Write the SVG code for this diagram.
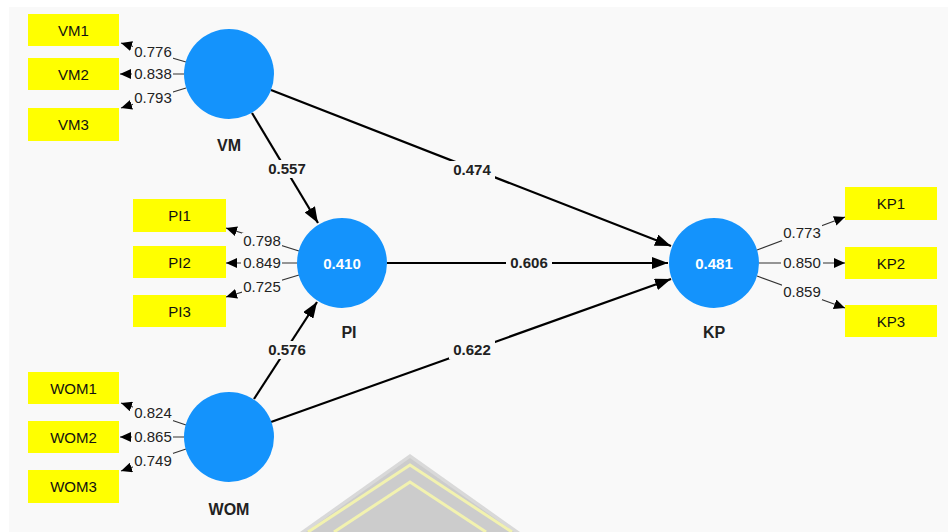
<svg xmlns="http://www.w3.org/2000/svg" width="948" height="532" viewBox="0 0 948 532">
  <defs>
    <marker id="tipSmall" markerUnits="userSpaceOnUse" markerWidth="11" markerHeight="10" refX="11" refY="5" orient="auto">
      <path d="M0,0 L11,5 L0,10 z" fill="#000"/>
    </marker>
    <marker id="tipBig" markerUnits="userSpaceOnUse" markerWidth="16" markerHeight="12" refX="16" refY="6" orient="auto">
      <path d="M0,0 L16,6 L0,12 z" fill="#000"/>
    </marker>
  </defs>
  <style>
    .box { fill: #ffff00; }
    .boxtxt { font-family: "Liberation Sans", Arial, sans-serif; font-size: 15px; fill: #111; text-anchor: middle; }
    .lv { fill: #1493fc; }
    .lvval { font-family: "Liberation Sans", Arial, sans-serif; font-size: 15px; font-weight: bold; fill: #ffffff; text-anchor: middle; }
    .lvname { font-family: "Liberation Sans", Arial, sans-serif; font-size: 16px; font-weight: bold; fill: #222; text-anchor: middle; }
    .ld { stroke: #333; stroke-width: 1.2; fill: none; marker-end: url(#tipSmall); }
    .path { stroke: #000; stroke-width: 2.2; fill: none; marker-end: url(#tipBig); }
    .lbg { fill: #f9f9f9; }
    .ldtxt { font-family: "Liberation Sans", Arial, sans-serif; font-size: 15px; fill: #222; text-anchor: middle; }
    .pathtxt { font-family: "Liberation Sans", Arial, sans-serif; font-size: 15px; font-weight: bold; fill: #222; text-anchor: middle; }
  </style>

  <!-- canvas -->
  <rect x="0" y="0" width="948" height="532" fill="#ffffff"/>
  <rect x="9" y="7" width="939" height="525" fill="#f9f9f9"/>

  <!-- faded emblem at the bottom -->
  <g id="emblem" opacity="0.9">
    <polygon points="410,454 300,532 520,532" fill="#d6d6d6"/>
    <polygon points="410,458 306,532 514,532" fill="#c8c8c8"/>
    <polyline points="308,532 410,465 512,532" fill="none" stroke="#f2f2a8" stroke-width="3"/>
    <polyline points="334,532 410,482 486,532" fill="none" stroke="#f2f2a8" stroke-width="3"/>
  </g>

  <!-- connectors -->
  <g id="connectors">
    <!-- structural paths -->
    <line class="path" x1="252" y1="113" x2="318" y2="223"/>
    <line class="path" x1="271" y1="90" x2="671" y2="246"/>
    <line class="path" x1="387" y1="263" x2="668" y2="263"/>
    <line class="path" x1="254" y1="399" x2="317" y2="302"/>
    <line class="path" x1="271" y1="422" x2="671" y2="279"/>

    <!-- outer loadings -->
    <line class="ld" x1="186" y1="62" x2="121" y2="43"/>
    <line class="ld" x1="184" y1="74" x2="120" y2="74"/>
    <line class="ld" x1="186" y1="88" x2="121" y2="108"/>

    <line class="ld" x1="299" y1="251" x2="226" y2="228"/>
    <line class="ld" x1="297" y1="263" x2="226" y2="263"/>
    <line class="ld" x1="299" y1="275" x2="226" y2="297"/>

    <line class="ld" x1="186" y1="425" x2="121" y2="403"/>
    <line class="ld" x1="184" y1="437" x2="120" y2="437"/>
    <line class="ld" x1="186" y1="449" x2="121" y2="471"/>

    <line class="ld" x1="757" y1="250" x2="845" y2="217"/>
    <line class="ld" x1="759" y1="263" x2="845" y2="263"/>
    <line class="ld" x1="757" y1="276" x2="845" y2="308"/>

    <!-- loading labels -->
    <rect class="lbg" x="133" y="44" width="40" height="16"/>
    <text class="ldtxt" x="153" y="57">0.776</text>
    <rect class="lbg" x="132" y="66" width="41" height="16"/>
    <text class="ldtxt" x="153" y="79">0.838</text>
    <rect class="lbg" x="133" y="90" width="40" height="16"/>
    <text class="ldtxt" x="153" y="103">0.793</text>

    <rect class="lbg" x="242" y="233" width="40" height="16"/>
    <text class="ldtxt" x="262" y="246">0.798</text>
    <rect class="lbg" x="241" y="255" width="41" height="16"/>
    <text class="ldtxt" x="262" y="268">0.849</text>
    <rect class="lbg" x="242" y="279" width="40" height="16"/>
    <text class="ldtxt" x="262" y="292">0.725</text>

    <rect class="lbg" x="133" y="405" width="40" height="16"/>
    <text class="ldtxt" x="153" y="418">0.824</text>
    <rect class="lbg" x="132" y="429" width="41" height="16"/>
    <text class="ldtxt" x="153" y="442">0.865</text>
    <rect class="lbg" x="133" y="453" width="40" height="16"/>
    <text class="ldtxt" x="153" y="466">0.749</text>

    <rect class="lbg" x="782" y="225" width="40" height="16"/>
    <text class="ldtxt" x="802" y="238">0.773</text>
    <rect class="lbg" x="781" y="255" width="42" height="16"/>
    <text class="ldtxt" x="802" y="268">0.850</text>
    <rect class="lbg" x="782" y="284" width="40" height="16"/>
    <text class="ldtxt" x="802" y="297">0.859</text>

    <!-- path coefficients -->
    <rect class="lbg" x="264" y="160" width="46" height="18"/>
    <text class="pathtxt" x="287" y="174">0.557</text>
    <rect class="lbg" x="449" y="161" width="46" height="18"/>
    <text class="pathtxt" x="472" y="175">0.474</text>
    <rect class="lbg" x="506" y="254" width="46" height="18"/>
    <text class="pathtxt" x="529" y="268">0.606</text>
    <rect class="lbg" x="264" y="341" width="46" height="18"/>
    <text class="pathtxt" x="287" y="355">0.576</text>
    <rect class="lbg" x="449" y="341" width="46" height="18"/>
    <text class="pathtxt" x="472" y="355">0.622</text>
  </g>

  <!-- indicators -->
  <g id="VM1"><rect class="box" x="28" y="14" width="91" height="32"/><text class="boxtxt" x="73.5" y="35.5">VM1</text></g>
  <g id="VM2"><rect class="box" x="28" y="58" width="91" height="32"/><text class="boxtxt" x="73.5" y="79.5">VM2</text></g>
  <g id="VM3"><rect class="box" x="28" y="108" width="91" height="33"/><text class="boxtxt" x="73.5" y="130">VM3</text></g>

  <g id="PI1"><rect class="box" x="133" y="199" width="93" height="33"/><text class="boxtxt" x="179.5" y="221">PI1</text></g>
  <g id="PI2"><rect class="box" x="133" y="246" width="93" height="32"/><text class="boxtxt" x="179.5" y="267.5">PI2</text></g>
  <g id="PI3"><rect class="box" x="133" y="295" width="93" height="32"/><text class="boxtxt" x="179.5" y="316.5">PI3</text></g>

  <g id="WOM1"><rect class="box" x="28" y="372" width="91" height="32"/><text class="boxtxt" x="73.5" y="393.5">WOM1</text></g>
  <g id="WOM2"><rect class="box" x="28" y="421" width="91" height="32"/><text class="boxtxt" x="73.5" y="442.5">WOM2</text></g>
  <g id="WOM3"><rect class="box" x="28" y="470" width="91" height="33"/><text class="boxtxt" x="73.5" y="492">WOM3</text></g>

  <g id="KP1"><rect class="box" x="845" y="187" width="92" height="33"/><text class="boxtxt" x="891" y="209">KP1</text></g>
  <g id="KP2"><rect class="box" x="845" y="247" width="92" height="32"/><text class="boxtxt" x="891" y="268.5">KP2</text></g>
  <g id="KP3"><rect class="box" x="845" y="305" width="92" height="32"/><text class="boxtxt" x="891" y="326.5">KP3</text></g>

  <!-- constructs -->
  <g id="VM"><circle class="lv" cx="229" cy="74" r="45"/><text class="lvname" x="229" y="151">VM</text></g>
  <g id="PI"><circle class="lv" cx="342" cy="263" r="45"/><text class="lvval" x="342" y="268.5">0.410</text><text class="lvname" x="349" y="338">PI</text></g>
  <g id="WOM"><circle class="lv" cx="229" cy="437" r="45"/><text class="lvname" x="229" y="515">WOM</text></g>
  <g id="KP"><circle class="lv" cx="714" cy="263" r="45"/><text class="lvval" x="714" y="268.5">0.481</text><text class="lvname" x="714" y="338">KP</text></g>
</svg>
